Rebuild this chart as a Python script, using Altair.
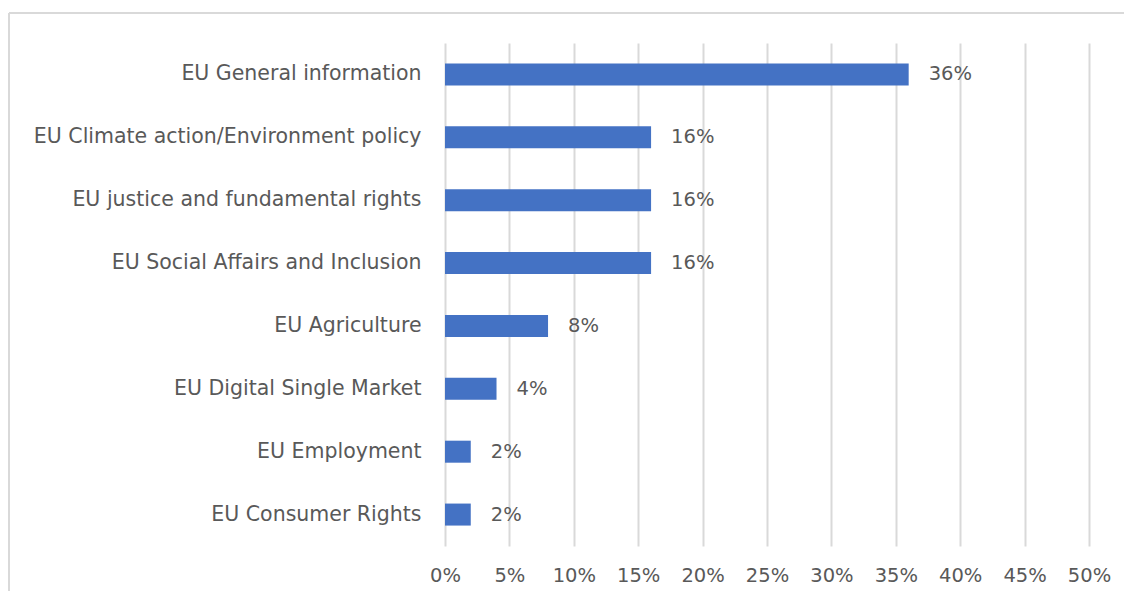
import altair as alt
import pandas as pd

categories = [
    "EU General information\u00a0",
    "EU Climate action/Environment policy",
    "EU justice and fundamental rights",
    "EU Social Affairs and Inclusion\u00a0",
    "EU Agriculture",
    "EU Digital Single Market",
    "EU Employment",
    "EU Consumer Rights",
]
values = [0.36, 0.16, 0.16, 0.16, 0.08, 0.04, 0.02, 0.02]
x_ticks = [0, 0.05, 0.10, 0.15, 0.20, 0.25, 0.30, 0.35, 0.40, 0.45, 0.50]

df = pd.DataFrame({"category": categories, "value": values})

FONT = "DejaVu Sans"
GRAY = "#595959"
GRID = "#d9d9d9"
FS = 19.5
FS_CAT = 20.5

W, H = 644, 503

top_line = alt.Chart(df).mark_rule(stroke=GRID, strokeWidth=2).encode(
    x=alt.value(-436), x2=alt.value(W + 60), y=alt.value(-30))
left_line = alt.Chart(df).mark_rule(stroke=GRID, strokeWidth=2).encode(
    x=alt.value(-436), y=alt.value(-30), y2=alt.value(H + 60))

base = alt.Chart(df).encode(
    y=alt.Y("category:N", sort=categories, title=None,
            scale=alt.Scale(paddingInner=0.65, paddingOuter=0.325),
            axis=alt.Axis(labelFont=FONT, labelFontSize=FS_CAT, labelColor=GRAY,
                          labelPadding=24, ticks=False, domain=False,
                          labelLimit=430)),
    x=alt.X("value:Q", title=None,
            scale=alt.Scale(domain=[0, 0.5], nice=False),
            axis=alt.Axis(values=x_ticks, format=".0%", labelFont=FONT,
                          labelFontSize=FS, labelColor=GRAY, labelPadding=20,
                          labelFlush=False, labelOverlap=False,
                          ticks=False, domain=False, grid=True,
                          gridColor=GRID, gridWidth=2)),
)

bars = base.mark_bar(color="#4472C4")
labels = base.mark_text(align="left", dx=20, font=FONT, fontSize=FS,
                        color=GRAY).encode(text=alt.Text("value:Q", format=".0%"))

chart = alt.layer(top_line, left_line, bars, labels).properties(
    width=W, height=H,
    background="white",
    padding={"left": 437, "top": 35, "right": 35, "bottom": 45},
    autosize=alt.AutoSizeParams(type="none"),
).configure_view(strokeWidth=0, stroke="transparent")

chart.save("out.html", embed_options={"renderer": "svg", "actions": False})
